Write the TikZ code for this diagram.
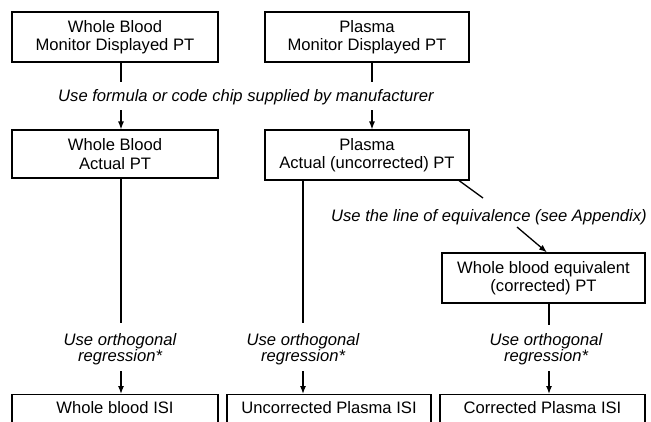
\documentclass[tikz,border=0pt]{standalone}
\usepackage{fontspec}
\setmainfont{Liberation Sans}
\usetikzlibrary{arrows.meta,calc}
\begin{document}
\begin{tikzpicture}[x=1pt,y=-1pt,
  box/.style={draw,line width=1.1pt,align=center,inner sep=0pt,font=\fontsize{16.6}{18.5}\selectfont},
  lab/.style={align=center,inner sep=0pt,font=\fontsize{16.6}{16}\selectfont\itshape},
  conn/.style={line width=1.3pt},
  arr/.style={line width=1.3pt,-{Latex[length=8pt,width=6pt]}},
  isi/.style={box,anchor=north,text height=17pt,text depth=20pt,inner ysep=2pt}]
\useasboundingbox (0,0) rectangle (651,421);
\clip (0,0) rectangle (651,421);
% boxes
\node[box,minimum width=206pt,minimum height=50pt] (b1) at (115,37) {Whole Blood\\Monitor Displayed PT};
\node[box,minimum width=204pt,minimum height=50pt] (b2) at (367,37) {Plasma\\Monitor Displayed PT};
\node[box,minimum width=206pt,minimum height=48pt] (b3) at (115,154) {Whole Blood\\Actual PT};
\node[box,minimum width=204pt,minimum height=50pt] (b4) at (367,155) {Plasma\\Actual (uncorrected) PT};
\node[box,minimum width=203pt,minimum height=50pt] (b5) at (543.5,278) {Whole blood equivalent\\(corrected) PT};
\node[isi,minimum width=206pt] (b6) at (115,394) {Whole blood ISI};
\node[isi,minimum width=204pt] (b7) at (329,394) {Uncorrected Plasma ISI};
\node[isi,minimum width=205pt] (b8) at (542.5,394) {Corrected Plasma ISI};
% labels
\node[lab] (l1) at (246,97) {Use formula or code chip supplied by manufacturer};
\node[lab] (l2) at (489,217) {Use the line of equivalence (see Appendix)};
\node[lab] (l3) at (120,349) {Use orthogonal\\regression*};
\node[lab] (l4) at (303,349) {Use orthogonal\\regression*};
\node[lab] (l5) at (546,349) {Use orthogonal\\regression*};
% connector coordinates
\coordinate (c1a) at (121,82);  \coordinate (c1b) at (121,110);
\coordinate (c2a) at (372,82);  \coordinate (c2b) at (372,110);
\coordinate (c3a) at (121,323); \coordinate (c3b) at (121,371);
\coordinate (c4a) at (303,323); \coordinate (c4b) at (303,371);
\coordinate (c5a) at (549,325); \coordinate (c5b) at (549,371);
\coordinate (d1) at (459,180);  \coordinate (d2) at (483,198);
\coordinate (d3) at (517,227);  \coordinate (d4) at (547,253);
% connectors
\draw[conn] (b1.south -| c1a) -- (c1a);
\draw[arr] (c1b) -- (b3.north -| c1b);
\draw[conn] (b2.south -| c2a) -- (c2a);
\draw[arr] (c2b) -- (b4.north -| c2b);
\draw[conn] (b3.south -| c3a) -- (c3a);
\draw[arr] (c3b) -- (b6.north -| c3b);
\draw[conn] (b4.south -| c4a) -- (c4a);
\draw[arr] (c4b) -- (b7.north -| c4b);
\draw[conn] (b5.south -| c5a) -- (c5a);
\draw[arr] (c5b) -- (b8.north -| c5b);
\draw[conn] (b4.south -| d1) -- (d2);
\draw[arr] (d3) -- (b5.north -| d4);
\end{tikzpicture}
\end{document}
